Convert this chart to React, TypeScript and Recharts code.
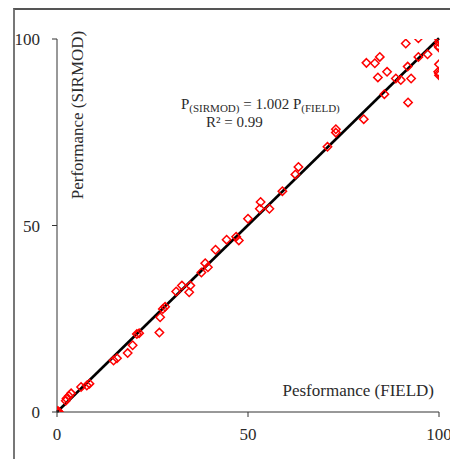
import React from 'react';
import {
  ScatterChart,
  Scatter,
  XAxis,
  YAxis,
  ReferenceLine,
  Customized,
} from 'recharts';

// Field-measured performance (%) for each irrigation event
const fieldPerf = [
  0, 0.3, 0.5, 0,
  2.3, 2.5, 3.1, 3.7,
  6.3, 7.8, 8.5,
  14.8, 15.7, 18.5, 19.8, 20.9, 21.5,
  26.8, 27.0, 27.7, 28.3,
  31.2, 32.7, 34.6, 34.9,
  37.8, 38.8, 39.5, 41.5,
  44.4, 46.9, 47.6, 50.0,
  53.3, 53.1, 55.6, 59.0,
  62.4, 63.2, 70.8, 73.0, 73.0,
  80.3, 81.0, 83.2, 84.5, 84.0, 86.4, 85.7,
  88.7, 90.0, 92.7, 91.8, 91.9,
  91.3, 94.6, 94.6, 97.0,
  100, 100, 99.8, 100, 100, 100, 99.8, 100,
];

// SIRMOD-simulated performance (%) for the same events
const sirmodPerf = [
  0, 0.2, 0, 0.3,
  3.0, 3.6, 4.3, 5.0,
  6.7, 7.1, 7.6,
  13.8, 14.4, 15.8, 17.9, 20.9, 21.1,
  21.3, 25.4, 27.6, 28.2,
  32.3, 33.9, 32.1, 33.9,
  37.4, 39.9, 38.8, 43.5,
  46.2, 47.0, 46.0, 51.8,
  56.3, 54.5, 54.5, 59.2,
  63.7, 65.7, 71.1, 75.8, 74.9,
  78.5, 93.6, 93.5, 95.2, 89.7, 91.2, 85.2,
  89.4, 89.0, 89.4, 92.6, 83.0,
  98.8, 100.2, 95.2, 95.9,
  100, 99.2, 98.2, 97.7, 93.2, 90.8, 91.2, 90.3,
];

const axisTicks = [0, 50, 100];

// Fitted regression through the origin: P(SIRMOD) = slope * P(FIELD)
const slope = 1.002;
const fitRange = [0, 100];

const points = fieldPerf.map((x, i) => ({ x, y: sirmodPerf[i] }));

const serif = '"Liberation Serif", "Times New Roman", serif';
const red = '#ff0000';
const ink = '#2b2b2b';

const Diamond = (props: any) => {
  const { cx, cy } = props;
  if (cx == null || cy == null) return null;
  const r = 4.2;
  return (
    <polygon
      points={`${cx},${cy - r} ${cx + r},${cy} ${cx},${cy + r} ${cx - r},${cy}`}
      fill="none"
      stroke={red}
      strokeWidth={1.5}
    />
  );
};

const Annotations = () => (
  <g fontFamily={serif} fill={ink}>
    <text
      x={62}
      y={105}
      fontSize={17}
      textAnchor="middle"
      dominantBaseline="central"
      transform="rotate(-90 62 105)"
    >
      Performance (SIRMOD)
    </text>
    <text x={419} y={386} fontSize={17} textAnchor="end">
      Pesformance (FIELD)
    </text>
    <text x={166} y={99} fontSize={15}>
      P
      <tspan fontSize={11} dy={3}>(SIRMOD)</tspan>
      <tspan dy={-3}> = 1.002 P</tspan>
      <tspan fontSize={11} dy={3}>(FIELD)</tspan>
    </text>
    <text x={191} y={116.5} fontSize={15}>
      R² = 0.99
    </text>
  </g>
);

export default function App() {
  return (
    <div
      style={{
        marginLeft: 5,
        width: 450,
        height: 452,
        borderTop: '2px solid #555',
        borderLeft: '2px solid #777',
      }}
    >
      <ScatterChart
        width={444}
        height={450}
        margin={{ top: 29, right: 20, bottom: 18, left: 12 }}
      >
        <XAxis
          type="number"
          dataKey="x"
          domain={[0, 100]}
          ticks={axisTicks}
          allowDataOverflow
          height={30}
          tickSize={5}
          tickMargin={11}
          axisLine={{ stroke: '#333', strokeWidth: 1 }}
          tickLine={{ stroke: '#333' }}
          tick={{ fill: ink, fontSize: 17, fontFamily: serif }}
        />
        <YAxis
          type="number"
          dataKey="y"
          domain={[0, 100]}
          ticks={axisTicks}
          allowDataOverflow
          width={30}
          tickSize={5}
          tickMargin={12}
          axisLine={{ stroke: '#333', strokeWidth: 1 }}
          tickLine={{ stroke: '#333' }}
          tick={{ fill: ink, fontSize: 17, fontFamily: serif }}
        />
        <ReferenceLine
          segment={[
            { x: fitRange[0], y: slope * fitRange[0] },
            { x: fitRange[1], y: slope * fitRange[1] },
          ]}
          stroke="#000"
          strokeWidth={2.6}
          ifOverflow="visible"
        />
        <Scatter
          data={points}
          shape={<Diamond />}
          isAnimationActive={false}
        />
        <Customized component={Annotations} />
      </ScatterChart>
    </div>
  );
}
